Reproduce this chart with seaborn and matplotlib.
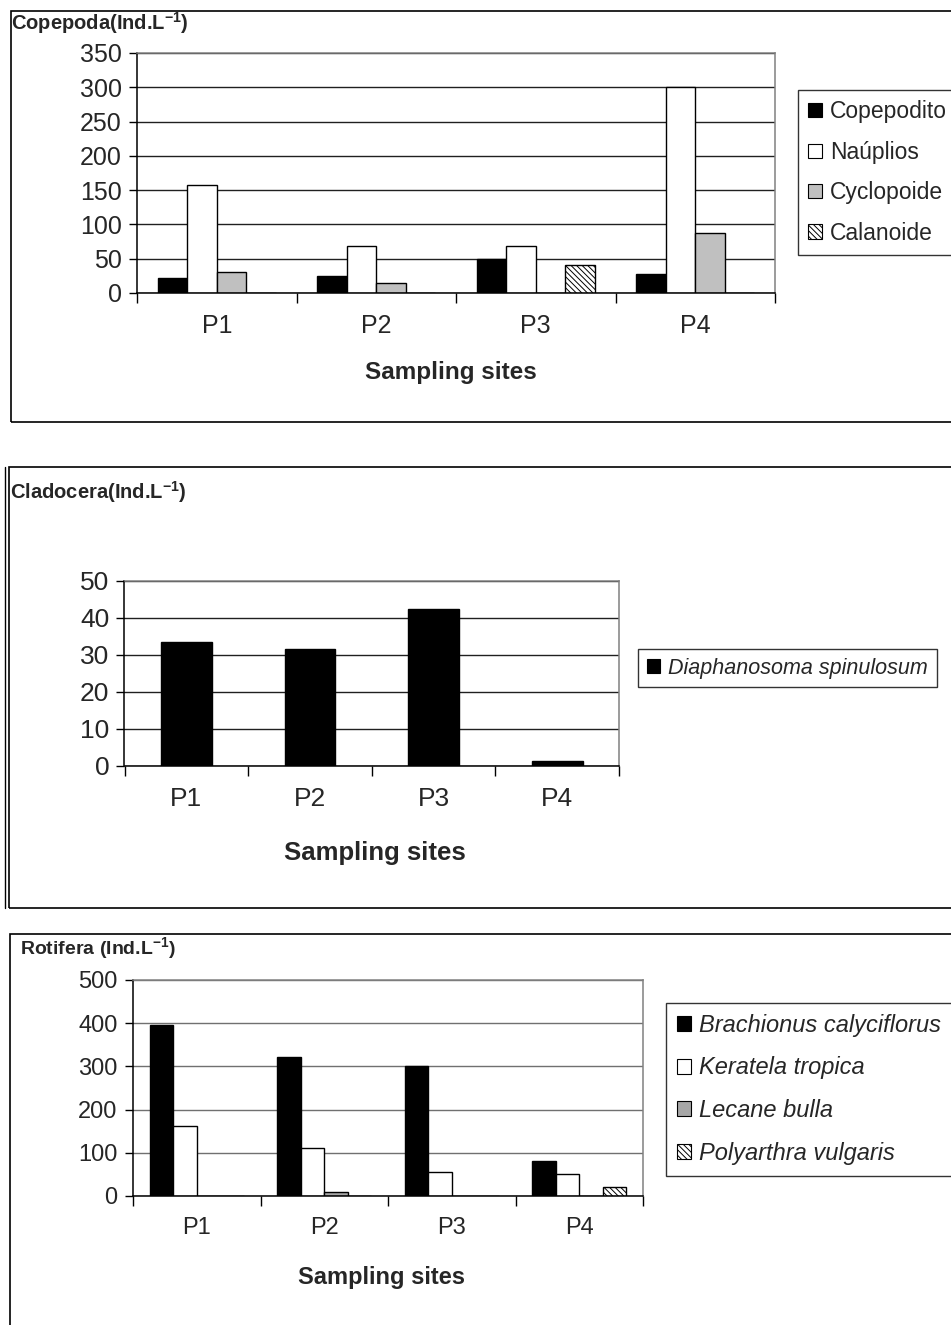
import numpy as np
import pandas as pd
import matplotlib
matplotlib.use("Agg")
import matplotlib.pyplot as plt
from matplotlib.patches import Rectangle, Patch
from matplotlib.lines import Line2D
import seaborn as sns

# ---------------- data ----------------
sites = ["P1", "P2", "P3", "P4"]

copepoda_groups = ["Copepodito", "Naúplios", "Cyclopoide", "Calanoide"]
copepodito = [22, 25, 50, 28]
nauplios = [157, 69, 69, 300]
cyclopoide = [31, 15, 0, 88]
calanoide = [0, 0, 41, 0]

cladocera_species = ["Diaphanosoma spinulosum"]
diaphanosoma = [33.4, 31.5, 42.3, 1.3]

rotifera_species = ["Brachionus calyciflorus", "Keratela tropica",
                    "Lecane bulla", "Polyarthra vulgaris"]
brachionus = [395, 322, 302, 82]
keratela = [163, 112, 56, 51]
lecane = [0, 10, 0, 0]
polyarthra = [0, 0, 0, 21]

cop_ticks = [0, 50, 100, 150, 200, 250, 300, 350]
cla_ticks = [0, 10, 20, 30, 40, 50]
rot_ticks = [0, 100, 200, 300, 400, 500]

# ---------------- style ----------------
sns.set_style("white")
plt.rcParams["font.family"] = ["Liberation Sans", "DejaVu Sans"]
plt.rcParams["mathtext.fontset"] = "custom"
plt.rcParams["mathtext.rm"] = "Liberation Sans"
plt.rcParams["mathtext.bf"] = "Liberation Sans:bold"
plt.rcParams["hatch.linewidth"] = 0.7

W, H = 951, 1325
fig = plt.figure(figsize=(W / 100, H / 100), dpi=100)
fig.patch.set_facecolor("white")


def rect(l, t, r, b):
    return [l / W, 1 - b / H, (r - l) / W, (b - t) / H]


def long_df(groups, series):
    rows = []
    for g, vals in zip(groups, series):
        for s, v in zip(sites, vals):
            rows.append({"site": s, "group": g, "value": v})
    return pd.DataFrame(rows)


def style_axis(ax, ticks, grid_color, tick_fs, xlab_fs, xpad, xlabel_xy):
    ax.set_ylim(ticks[0], ticks[-1])
    ax.set_yticks(ticks)
    ax.set_yticklabels([str(t) for t in ticks])
    ax.yaxis.grid(True, color=grid_color, lw=1)
    ax.xaxis.grid(False)
    ax.set_axisbelow(True)
    for side in ["left", "bottom"]:
        ax.spines[side].set_color("black")
        ax.spines[side].set_linewidth(1.1)
    for side in ["top", "right"]:
        ax.spines[side].set_color("#808080")
        ax.spines[side].set_linewidth(1.1)
        ax.spines[side].set_visible(True)
    ax.tick_params(axis="y", direction="out", length=6, width=1,
                   color="black", pad=5, labelsize=tick_fs, left=True)
    ax.tick_params(axis="x", which="major", length=0, pad=xpad,
                   labelsize=tick_fs)
    bounds = np.arange(len(sites) + 1) - 0.5
    ax.set_xticks(bounds, minor=True)
    ax.tick_params(axis="x", which="minor", direction="out", length=7,
                   width=1, color="black", bottom=True)
    ax.set_xlim(-0.5, len(sites) - 0.5)
    ax.set_ylabel("")
    ax.set_xlabel("Sampling sites", fontsize=xlab_fs, fontweight="bold")
    ax.xaxis.label.set_va("center")
    ax.xaxis.set_label_coords(*xlabel_xy)


def add_legend(ax, labels, colors, hatches, fs, anchor_px, italic,
               spacing, hl, bpad=0.4, tpad=0.4):
    handles = [Patch(facecolor=c, edgecolor="black", hatch=h, lw=0.8,
                     label=lab)
               for lab, c, h in zip(labels, colors, hatches)]
    leg = ax.legend(handles=handles, loc="upper left",
                    bbox_to_anchor=(anchor_px[0] / W, 1 - anchor_px[1] / H),
                    bbox_transform=fig.transFigure, borderaxespad=0,
                    fancybox=False, frameon=True, fontsize=fs,
                    handlelength=hl, handleheight=hl, handletextpad=tpad,
                    labelspacing=spacing, borderpad=bpad)
    fr = leg.get_frame()
    fr.set_edgecolor("black")
    fr.set_linewidth(1)
    if italic:
        for t in leg.get_texts():
            t.set_fontstyle("italic")
    return leg


# ---------------- panel borders ----------------
fig.patches.append(Rectangle((11 / W, 1 - 422 / H), (960 - 11) / W,
                             (422 - 11) / H, transform=fig.transFigure,
                             fill=False, ec="black", lw=1.2))
fig.patches.append(Rectangle((9 / W, 1 - 908 / H), (960 - 9) / W,
                             (908 - 467) / H, transform=fig.transFigure,
                             fill=False, ec="black", lw=1.2))
fig.lines.append(Line2D([5 / W, 5 / W], [1 - 467 / H, 1 - 908 / H],
                        transform=fig.transFigure, color="black", lw=1))
fig.patches.append(Rectangle((10 / W, 1 - 1340 / H), (960 - 10) / W,
                             (1340 - 934) / H, transform=fig.transFigure,
                             fill=False, ec="black", lw=1.2))

# ---------------- panel 1: Copepoda ----------------
ax1 = fig.add_axes(rect(137, 53, 775, 293))
df1 = long_df(copepoda_groups,
              [copepodito, nauplios, cyclopoide, calanoide])
cop_colors = ["#000000", "#ffffff", "#c0c0c0", "#ffffff"]
cop_hatches = ["", "", "", "\\\\\\\\\\\\"]
sns.barplot(data=df1, x="site", y="value", hue="group",
            palette=cop_colors, width=0.74, edgecolor="black", linewidth=1,
            saturation=1, errorbar=None, legend=False, ax=ax1)
for cont, h in zip(ax1.containers, cop_hatches):
    for p in cont.patches:
        p.set_hatch(h)
style_axis(ax1, cop_ticks, "#202020", 18, 17.5, 15, (0.492, -0.33))
add_legend(ax1, copepoda_groups, cop_colors, cop_hatches, 16.5, (798, 90),
           False, 0.76, 0.58, bpad=0.45, tpad=0.35)
fig.text(11 / W, 1 - 30 / H, r"Copepoda(Ind.L$^{\mathbf{-1}}$)",
         fontsize=14.5, fontweight="bold", va="baseline", ha="left")

# ---------------- panel 2: Cladocera ----------------
ax2 = fig.add_axes(rect(124.5, 580.7, 619, 765.7))
df2 = long_df(cladocera_species, [diaphanosoma])
sns.barplot(data=df2, x="site", y="value", hue="group",
            palette=["#000000"], width=0.41, edgecolor="black", linewidth=1,
            saturation=1, errorbar=None, legend=False, ax=ax2)
style_axis(ax2, cla_ticks, "#202020", 19, 18.5, 15, (0.507, -0.47))
add_legend(ax2, cladocera_species, ["#000000"], [""], 15.5, (638, 649),
           True, 0.5, 0.6)
fig.text(10 / W, 1 - 499 / H, r"Cladocera(Ind.L$^{\mathbf{-1}}$)",
         fontsize=14.5, fontweight="bold", va="baseline", ha="left")

# ---------------- panel 3: Rotifera ----------------
ax3 = fig.add_axes(rect(133, 980, 643, 1196))
df3 = long_df(rotifera_species, [brachionus, keratela, lecane, polyarthra])
rot_colors = ["#000000", "#ffffff", "#a6a6a6", "#ffffff"]
rot_hatches = ["", "", "", "\\\\\\\\\\\\"]
sns.barplot(data=df3, x="site", y="value", hue="group",
            palette=rot_colors, width=0.74, edgecolor="black", linewidth=1,
            saturation=1, errorbar=None, legend=False, ax=ax3)
for cont, h in zip(ax3.containers, rot_hatches):
    for p in cont.patches:
        p.set_hatch(h)
style_axis(ax3, rot_ticks, "#707070", 17, 17, 15, (0.488, -0.378))
add_legend(ax3, rotifera_species, rot_colors, rot_hatches, 17, (666, 1003),
           True, 0.84, 0.6, bpad=0.45, tpad=0.35)
fig.text(20 / W, 1 - 955 / H, r"Rotifera (Ind.L$^{\mathbf{-1}}$)",
         fontsize=14, fontweight="bold", va="baseline", ha="left")

fig.savefig("out.png", dpi=100, facecolor="white")
